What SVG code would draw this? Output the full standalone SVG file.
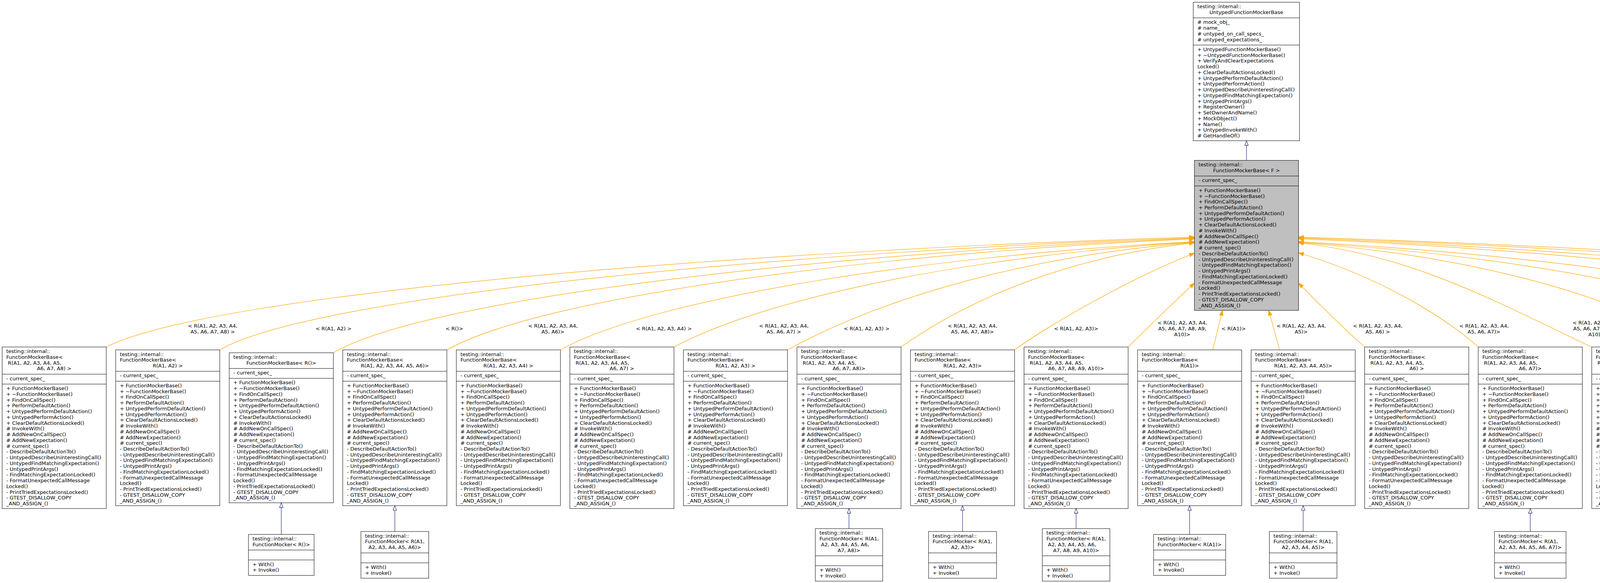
<svg xmlns="http://www.w3.org/2000/svg" width="6381" height="1493" viewBox="0 0 6381 1493">
<style>
.t{font-family:"DejaVu Sans","Liberation Sans",sans-serif;font-size:13px;fill:#000}
.c{text-anchor:middle}
.b{fill:#fff;stroke:#000;stroke-width:1}
.g{fill:#bfbfbf;stroke:#000;stroke-width:1}
.s{fill:none;stroke:#000;stroke-width:1}
.e{fill:none;stroke:#ffa500;stroke-width:1.2;marker-end:url(#ao)}
.i{fill:none;stroke:#191970;stroke-width:1.1;marker-end:url(#ai)}
</style>
<defs>
<marker id="ao" markerUnits="userSpaceOnUse" markerWidth="15" markerHeight="11" refX="13.5" refY="5" orient="auto"><path d="M0,0L13.5,5L0,10Z" fill="#ffa500" stroke="#ffa500" stroke-width="1"/></marker>
<marker id="ai" markerUnits="userSpaceOnUse" markerWidth="15" markerHeight="12" refX="13" refY="5" orient="auto"><path d="M1,0.5L13,5L1,9.5Z" fill="#fff" stroke="#191970" stroke-width="1.1"/></marker>
</defs>
<rect width="6381" height="1493" fill="#fff"/>

<g id="connectors">
<path class="i" d="M3191,410.7V360.38"/>
<path class="e" d="M272,888.67C550.6,747.9 1943.4,640.8 3057.7,607"/>
<path class="e" d="M562.67,896.04C812.2,752.5 2059.7,642.9 3057.7,608.5"/>
<path class="e" d="M853.34,903.41C1102.4,757.2 2175.9,645.1 3057.7,610"/>
<path class="e" d="M1144.01,896.04C1394,754.5 2292.2,645.5 3057.7,611.5"/>
<path class="e" d="M1434.68,896.04C1684.7,757.5 2408.5,652.2 3057.7,619"/>
<path class="e" d="M1725.35,888.67C1975.4,754.4 2524.8,652.2 3057.7,620"/>
<path class="e" d="M2016.02,896.04C2266,758.5 2641,654 3057.7,621"/>
<path class="e" d="M2306.69,888.67C2494.5,755.4 2757.3,654 3057.7,622"/>
<path class="e" d="M2597.36,896.04C2680,835 2900,709 3057.7,648.3"/>
<path class="e" d="M2888.03,888.67C2915,862 2990,788 3057.7,725"/>
<path class="e" d="M3104.5,896.04L3129.5,794.9"/>
<path class="e" d="M3275.8,896.04L3248,794.9"/>
<path class="e" d="M3493.54,888.67C3450,850 3380,782 3324.3,725"/>
<path class="e" d="M3784.21,888.67C3720,830 3560,719 3324.3,647.3"/>
<path class="e" d="M4074.88,888.67C3849.7,783.2 3624.5,654 3324.3,622"/>
<path class="e" d="M4365.55,896.04C4115.6,744.7 3740.8,654 3324.3,621"/>
<path class="e" d="M4656.22,896.04C4406.2,744.2 3857.1,653.4 3324.3,620"/>
<path class="e" d="M4946.89,903.41C4696.9,747 3973.3,653.1 3324.3,619"/>
<path class="e" d="M5237.56,888.67C4987.5,736.2 4089.6,644.8 3324.3,611.5"/>
<path class="e" d="M5528.23,896.04C5278.2,738.7 4205.9,644.3 3324.3,610"/>
<path class="e" d="M5818.9,888.67C5569.4,734.7 4322.1,642.1 3324.3,608.5"/>
<path class="e" d="M6109.57,896.04C5831.1,737 4438.4,641.7 3324.3,607"/>
<path class="i" d="M720.09,1368.5V1287.59"/>
<path class="i" d="M1010.76,1361.14V1294.96"/>
<path class="i" d="M2173.44,1353.77V1302.33"/>
<path class="i" d="M2464.11,1361.14V1294.96"/>
<path class="i" d="M2754.78,1353.77V1302.33"/>
<path class="i" d="M3045.45,1368.5V1294.96"/>
<path class="i" d="M3336.12,1361.14V1294.96"/>
<path class="i" d="M3917.46,1361.14V1302.33"/>
<path class="i" d="M5370.81,1353.77V1302.33"/>
<path class="i" d="M5661.48,1361.14V1294.96"/>
<path class="i" d="M6242.82,1368.5V1294.96"/>
<g class="t c">
<text x="544.5" y="839">&lt; R(A1, A2, A3, A4,</text><text x="544.5" y="854">A5, A6, A7, A8) &gt;</text>
<text x="854" y="845.8">&lt; R(A1, A2) &gt;</text>
<text x="1163" y="845.8">&lt; R()&gt;</text>
<text x="1415.5" y="839">&lt; R(A1, A2, A3, A4,</text><text x="1415.5" y="854">A5, A6)&gt;</text>
<text x="1699.5" y="845.8">&lt; R(A1, A2, A3, A4) &gt;</text>
<text x="2006.5" y="839">&lt; R(A1, A2, A3, A4,</text><text x="2006.5" y="854">A5, A6, A7) &gt;</text>
<text x="2218.5" y="845.8">&lt; R(A1, A2, A3) &gt;</text>
<text x="2489.5" y="839">&lt; R(A1, A2, A3, A4,</text><text x="2489.5" y="854">A5, A6, A7, A8)&gt;</text>
<text x="2755" y="845.8">&lt; R(A1, A2, A3)&gt;</text>
<text x="3026.7" y="831.4">&lt; R(A1, A2, A3, A4,</text><text x="3026.7" y="846">A5, A6, A7, A8, A9,</text><text x="3026.7" y="860.6">A10)&gt;</text>
<text x="3158" y="845.8">&lt; R(A1)&gt;</text>
<text x="3331" y="839">&lt; R(A1, A2, A3, A4,</text><text x="3331" y="854">A5)&gt;</text>
<text x="3527" y="839">&lt; R(A1, A2, A3, A4,</text><text x="3527" y="854">A5, A6) &gt;</text>
<text x="3799" y="839">&lt; R(A1, A2, A3, A4,</text><text x="3799" y="854">A5, A6, A7)&gt;</text>
<text x="4089" y="831.4">&lt; R(A1, A2, A3, A4,</text><text x="4089" y="846">A5, A6, A7, A8, A9,</text><text x="4089" y="860.6">A10) &gt;</text>
<text x="4344" y="845.8">&lt; R(A1) &gt;</text>
<text x="4652" y="839">&lt; R(A1, A2, A3, A4,</text><text x="4652" y="854">A5) &gt;</text>
<text x="4923.5" y="845.8">&lt; R() &gt;</text>
<text x="5254" y="839">&lt; R(A1, A2, A3, A4,</text><text x="5254" y="854">A5, A6, A7, A8, A9)&gt;</text>
<text x="5549" y="845.8">&lt; R(A1, A2, A3, A4)&gt;</text>
<text x="5841" y="839">&lt; R(A1, A2, A3, A4,</text><text x="5841" y="854">A5, A6, A7, A8, A9) &gt;</text>
<text x="6107" y="845.8">&lt; R(A1, A2)&gt;</text>
</g>
</g>

<g id="untyped" transform="translate(3054.7,5.7)"><rect class="b" width="272" height="354.68"/><path class="s" d="M0,40.08H272M0,109.64H272"/><text class="t" x="10.5" y="15.6">testing::internal::</text><text class="t c" x="136" y="30.34">UntypedFunctionMockerBase</text><text class="t" y="55.68"><tspan x="10.5"># mock_obj_</tspan><tspan x="10.5" dy="14.74"># name_</tspan><tspan x="10.5" dy="14.74"># untyped_on_call_specs_</tspan><tspan x="10.5" dy="14.74"># untyped_expectations_</tspan></text><text class="t" y="125.24"><tspan x="10.5">+ UntypedFunctionMockerBase()</tspan><tspan x="10.5" dy="14.74">+ ~UntypedFunctionMockerBase()</tspan><tspan x="10.5" dy="14.74">+ VerifyAndClearExpectations</tspan><tspan x="10.5" dy="14.74">Locked()</tspan><tspan x="10.5" dy="14.74">+ ClearDefaultActionsLocked()</tspan><tspan x="10.5" dy="14.74">+ UntypedPerformDefaultAction()</tspan><tspan x="10.5" dy="14.74">+ UntypedPerformAction()</tspan><tspan x="10.5" dy="14.74">+ UntypedDescribeUninterestingCall()</tspan><tspan x="10.5" dy="14.74">+ UntypedFindMatchingExpectation()</tspan><tspan x="10.5" dy="14.74">+ UntypedPrintArgs()</tspan><tspan x="10.5" dy="14.74">+ RegisterOwner()</tspan><tspan x="10.5" dy="14.74">+ SetOwnerAndName()</tspan><tspan x="10.5" dy="14.74">+ MockObject()</tspan><tspan x="10.5" dy="14.74">+ Name()</tspan><tspan x="10.5" dy="14.74">+ UntypedInvokeWith()</tspan><tspan x="10.5" dy="14.74"># GetHandleOf()</tspan></text></g>

<g id="base" transform="translate(3057.7,410.7)"><rect class="g" width="266.6" height="384.18"/><path class="s" d="M0,40.08H266.6M0,65.48H266.6"/><text class="t" x="10.5" y="15.6">testing::internal::</text><text class="t c" x="133.3" y="30.34">FunctionMockerBase&lt; F &gt;</text><text class="t" x="10.5" y="55.68">- current_spec_</text><text class="t" y="81.08"><tspan x="10.5">+ FunctionMockerBase()</tspan><tspan x="10.5" dy="14.74">+ ~FunctionMockerBase()</tspan><tspan x="10.5" dy="14.74">+ FindOnCallSpec()</tspan><tspan x="10.5" dy="14.74">+ PerformDefaultAction()</tspan><tspan x="10.5" dy="14.74">+ UntypedPerformDefaultAction()</tspan><tspan x="10.5" dy="14.74">+ UntypedPerformAction()</tspan><tspan x="10.5" dy="14.74">+ ClearDefaultActionsLocked()</tspan><tspan x="10.5" dy="14.74"># InvokeWith()</tspan><tspan x="10.5" dy="14.74"># AddNewOnCallSpec()</tspan><tspan x="10.5" dy="14.74"># AddNewExpectation()</tspan><tspan x="10.5" dy="14.74"># current_spec()</tspan><tspan x="10.5" dy="14.74">- DescribeDefaultActionTo()</tspan><tspan x="10.5" dy="14.74">- UntypedDescribeUninterestingCall()</tspan><tspan x="10.5" dy="14.74">- UntypedFindMatchingExpectation()</tspan><tspan x="10.5" dy="14.74">- UntypedPrintArgs()</tspan><tspan x="10.5" dy="14.74">- FindMatchingExpectationLocked()</tspan><tspan x="10.5" dy="14.74">- FormatUnexpectedCallMessage</tspan><tspan x="10.5" dy="14.74">Locked()</tspan><tspan x="10.5" dy="14.74">- PrintTriedExpectationsLocked()</tspan><tspan x="10.5" dy="14.74">- GTEST_DISALLOW_COPY</tspan><tspan x="10.5" dy="14.74">_AND_ASSIGN_()</tspan></text></g>

<g id="n1" transform="translate(5.5,888.67)"><rect class="b" width="266.5" height="413.66"/><path class="s" d="M0,69.56H266.5M0,94.96H266.5"/><text class="t" x="10.5" y="15.6">testing::internal::</text><text class="t" x="10.5" y="30.34">FunctionMockerBase&lt;</text><text class="t" x="14.6" y="45.08">R(A1, A2, A3, A4, A5,</text><text class="t c" x="133.25" y="59.82">A6, A7, A8) &gt;</text><text class="t" x="10.5" y="85.16">- current_spec_</text><text class="t" y="110.56"><tspan x="10.5">+ FunctionMockerBase()</tspan><tspan x="10.5" dy="14.74">+ ~FunctionMockerBase()</tspan><tspan x="10.5" dy="14.74">+ FindOnCallSpec()</tspan><tspan x="10.5" dy="14.74">+ PerformDefaultAction()</tspan><tspan x="10.5" dy="14.74">+ UntypedPerformDefaultAction()</tspan><tspan x="10.5" dy="14.74">+ UntypedPerformAction()</tspan><tspan x="10.5" dy="14.74">+ ClearDefaultActionsLocked()</tspan><tspan x="10.5" dy="14.74"># InvokeWith()</tspan><tspan x="10.5" dy="14.74"># AddNewOnCallSpec()</tspan><tspan x="10.5" dy="14.74"># AddNewExpectation()</tspan><tspan x="10.5" dy="14.74"># current_spec()</tspan><tspan x="10.5" dy="14.74">- DescribeDefaultActionTo()</tspan><tspan x="10.5" dy="14.74">- UntypedDescribeUninterestingCall()</tspan><tspan x="10.5" dy="14.74">- UntypedFindMatchingExpectation()</tspan><tspan x="10.5" dy="14.74">- UntypedPrintArgs()</tspan><tspan x="10.5" dy="14.74">- FindMatchingExpectationLocked()</tspan><tspan x="10.5" dy="14.74">- FormatUnexpectedCallMessage</tspan><tspan x="10.5" dy="14.74">Locked()</tspan><tspan x="10.5" dy="14.74">- PrintTriedExpectationsLocked()</tspan><tspan x="10.5" dy="14.74">- GTEST_DISALLOW_COPY</tspan><tspan x="10.5" dy="14.74">_AND_ASSIGN_()</tspan></text></g>

<g id="n2" transform="translate(296.17,896.04)"><rect class="b" width="266.5" height="398.92"/><path class="s" d="M0,54.82H266.5M0,80.22H266.5"/><text class="t" x="10.5" y="15.6">testing::internal::</text><text class="t" x="10.5" y="30.34">FunctionMockerBase&lt;</text><text class="t c" x="133.25" y="45.08">R(A1, A2) &gt;</text><text class="t" x="10.5" y="70.42">- current_spec_</text><text class="t" y="95.82"><tspan x="10.5">+ FunctionMockerBase()</tspan><tspan x="10.5" dy="14.74">+ ~FunctionMockerBase()</tspan><tspan x="10.5" dy="14.74">+ FindOnCallSpec()</tspan><tspan x="10.5" dy="14.74">+ PerformDefaultAction()</tspan><tspan x="10.5" dy="14.74">+ UntypedPerformDefaultAction()</tspan><tspan x="10.5" dy="14.74">+ UntypedPerformAction()</tspan><tspan x="10.5" dy="14.74">+ ClearDefaultActionsLocked()</tspan><tspan x="10.5" dy="14.74"># InvokeWith()</tspan><tspan x="10.5" dy="14.74"># AddNewOnCallSpec()</tspan><tspan x="10.5" dy="14.74"># AddNewExpectation()</tspan><tspan x="10.5" dy="14.74"># current_spec()</tspan><tspan x="10.5" dy="14.74">- DescribeDefaultActionTo()</tspan><tspan x="10.5" dy="14.74">- UntypedDescribeUninterestingCall()</tspan><tspan x="10.5" dy="14.74">- UntypedFindMatchingExpectation()</tspan><tspan x="10.5" dy="14.74">- UntypedPrintArgs()</tspan><tspan x="10.5" dy="14.74">- FindMatchingExpectationLocked()</tspan><tspan x="10.5" dy="14.74">- FormatUnexpectedCallMessage</tspan><tspan x="10.5" dy="14.74">Locked()</tspan><tspan x="10.5" dy="14.74">- PrintTriedExpectationsLocked()</tspan><tspan x="10.5" dy="14.74">- GTEST_DISALLOW_COPY</tspan><tspan x="10.5" dy="14.74">_AND_ASSIGN_()</tspan></text></g>

<g id="n3" transform="translate(586.84,903.41)"><rect class="b" width="266.5" height="384.18"/><path class="s" d="M0,40.08H266.5M0,65.48H266.5"/><text class="t" x="10.5" y="15.6">testing::internal::</text><text class="t c" x="133.25" y="30.34">FunctionMockerBase&lt; R()&gt;</text><text class="t" x="10.5" y="55.68">- current_spec_</text><text class="t" y="81.08"><tspan x="10.5">+ FunctionMockerBase()</tspan><tspan x="10.5" dy="14.74">+ ~FunctionMockerBase()</tspan><tspan x="10.5" dy="14.74">+ FindOnCallSpec()</tspan><tspan x="10.5" dy="14.74">+ PerformDefaultAction()</tspan><tspan x="10.5" dy="14.74">+ UntypedPerformDefaultAction()</tspan><tspan x="10.5" dy="14.74">+ UntypedPerformAction()</tspan><tspan x="10.5" dy="14.74">+ ClearDefaultActionsLocked()</tspan><tspan x="10.5" dy="14.74"># InvokeWith()</tspan><tspan x="10.5" dy="14.74"># AddNewOnCallSpec()</tspan><tspan x="10.5" dy="14.74"># AddNewExpectation()</tspan><tspan x="10.5" dy="14.74"># current_spec()</tspan><tspan x="10.5" dy="14.74">- DescribeDefaultActionTo()</tspan><tspan x="10.5" dy="14.74">- UntypedDescribeUninterestingCall()</tspan><tspan x="10.5" dy="14.74">- UntypedFindMatchingExpectation()</tspan><tspan x="10.5" dy="14.74">- UntypedPrintArgs()</tspan><tspan x="10.5" dy="14.74">- FindMatchingExpectationLocked()</tspan><tspan x="10.5" dy="14.74">- FormatUnexpectedCallMessage</tspan><tspan x="10.5" dy="14.74">Locked()</tspan><tspan x="10.5" dy="14.74">- PrintTriedExpectationsLocked()</tspan><tspan x="10.5" dy="14.74">- GTEST_DISALLOW_COPY</tspan><tspan x="10.5" dy="14.74">_AND_ASSIGN_()</tspan></text></g>

<g id="n4" transform="translate(877.51,896.04)"><rect class="b" width="266.5" height="398.92"/><path class="s" d="M0,54.82H266.5M0,80.22H266.5"/><text class="t" x="10.5" y="15.6">testing::internal::</text><text class="t" x="10.5" y="30.34">FunctionMockerBase&lt;</text><text class="t c" x="133.25" y="45.08">R(A1, A2, A3, A4, A5, A6)&gt;</text><text class="t" x="10.5" y="70.42">- current_spec_</text><text class="t" y="95.82"><tspan x="10.5">+ FunctionMockerBase()</tspan><tspan x="10.5" dy="14.74">+ ~FunctionMockerBase()</tspan><tspan x="10.5" dy="14.74">+ FindOnCallSpec()</tspan><tspan x="10.5" dy="14.74">+ PerformDefaultAction()</tspan><tspan x="10.5" dy="14.74">+ UntypedPerformDefaultAction()</tspan><tspan x="10.5" dy="14.74">+ UntypedPerformAction()</tspan><tspan x="10.5" dy="14.74">+ ClearDefaultActionsLocked()</tspan><tspan x="10.5" dy="14.74"># InvokeWith()</tspan><tspan x="10.5" dy="14.74"># AddNewOnCallSpec()</tspan><tspan x="10.5" dy="14.74"># AddNewExpectation()</tspan><tspan x="10.5" dy="14.74"># current_spec()</tspan><tspan x="10.5" dy="14.74">- DescribeDefaultActionTo()</tspan><tspan x="10.5" dy="14.74">- UntypedDescribeUninterestingCall()</tspan><tspan x="10.5" dy="14.74">- UntypedFindMatchingExpectation()</tspan><tspan x="10.5" dy="14.74">- UntypedPrintArgs()</tspan><tspan x="10.5" dy="14.74">- FindMatchingExpectationLocked()</tspan><tspan x="10.5" dy="14.74">- FormatUnexpectedCallMessage</tspan><tspan x="10.5" dy="14.74">Locked()</tspan><tspan x="10.5" dy="14.74">- PrintTriedExpectationsLocked()</tspan><tspan x="10.5" dy="14.74">- GTEST_DISALLOW_COPY</tspan><tspan x="10.5" dy="14.74">_AND_ASSIGN_()</tspan></text></g>

<g id="n5" transform="translate(1168.18,896.04)"><rect class="b" width="266.5" height="398.92"/><path class="s" d="M0,54.82H266.5M0,80.22H266.5"/><text class="t" x="10.5" y="15.6">testing::internal::</text><text class="t" x="10.5" y="30.34">FunctionMockerBase&lt;</text><text class="t c" x="133.25" y="45.08">R(A1, A2, A3, A4) &gt;</text><text class="t" x="10.5" y="70.42">- current_spec_</text><text class="t" y="95.82"><tspan x="10.5">+ FunctionMockerBase()</tspan><tspan x="10.5" dy="14.74">+ ~FunctionMockerBase()</tspan><tspan x="10.5" dy="14.74">+ FindOnCallSpec()</tspan><tspan x="10.5" dy="14.74">+ PerformDefaultAction()</tspan><tspan x="10.5" dy="14.74">+ UntypedPerformDefaultAction()</tspan><tspan x="10.5" dy="14.74">+ UntypedPerformAction()</tspan><tspan x="10.5" dy="14.74">+ ClearDefaultActionsLocked()</tspan><tspan x="10.5" dy="14.74"># InvokeWith()</tspan><tspan x="10.5" dy="14.74"># AddNewOnCallSpec()</tspan><tspan x="10.5" dy="14.74"># AddNewExpectation()</tspan><tspan x="10.5" dy="14.74"># current_spec()</tspan><tspan x="10.5" dy="14.74">- DescribeDefaultActionTo()</tspan><tspan x="10.5" dy="14.74">- UntypedDescribeUninterestingCall()</tspan><tspan x="10.5" dy="14.74">- UntypedFindMatchingExpectation()</tspan><tspan x="10.5" dy="14.74">- UntypedPrintArgs()</tspan><tspan x="10.5" dy="14.74">- FindMatchingExpectationLocked()</tspan><tspan x="10.5" dy="14.74">- FormatUnexpectedCallMessage</tspan><tspan x="10.5" dy="14.74">Locked()</tspan><tspan x="10.5" dy="14.74">- PrintTriedExpectationsLocked()</tspan><tspan x="10.5" dy="14.74">- GTEST_DISALLOW_COPY</tspan><tspan x="10.5" dy="14.74">_AND_ASSIGN_()</tspan></text></g>

<g id="n6" transform="translate(1458.85,888.67)"><rect class="b" width="266.5" height="413.66"/><path class="s" d="M0,69.56H266.5M0,94.96H266.5"/><text class="t" x="10.5" y="15.6">testing::internal::</text><text class="t" x="10.5" y="30.34">FunctionMockerBase&lt;</text><text class="t" x="14.6" y="45.08">R(A1, A2, A3, A4, A5,</text><text class="t c" x="133.25" y="59.82">A6, A7) &gt;</text><text class="t" x="10.5" y="85.16">- current_spec_</text><text class="t" y="110.56"><tspan x="10.5">+ FunctionMockerBase()</tspan><tspan x="10.5" dy="14.74">+ ~FunctionMockerBase()</tspan><tspan x="10.5" dy="14.74">+ FindOnCallSpec()</tspan><tspan x="10.5" dy="14.74">+ PerformDefaultAction()</tspan><tspan x="10.5" dy="14.74">+ UntypedPerformDefaultAction()</tspan><tspan x="10.5" dy="14.74">+ UntypedPerformAction()</tspan><tspan x="10.5" dy="14.74">+ ClearDefaultActionsLocked()</tspan><tspan x="10.5" dy="14.74"># InvokeWith()</tspan><tspan x="10.5" dy="14.74"># AddNewOnCallSpec()</tspan><tspan x="10.5" dy="14.74"># AddNewExpectation()</tspan><tspan x="10.5" dy="14.74"># current_spec()</tspan><tspan x="10.5" dy="14.74">- DescribeDefaultActionTo()</tspan><tspan x="10.5" dy="14.74">- UntypedDescribeUninterestingCall()</tspan><tspan x="10.5" dy="14.74">- UntypedFindMatchingExpectation()</tspan><tspan x="10.5" dy="14.74">- UntypedPrintArgs()</tspan><tspan x="10.5" dy="14.74">- FindMatchingExpectationLocked()</tspan><tspan x="10.5" dy="14.74">- FormatUnexpectedCallMessage</tspan><tspan x="10.5" dy="14.74">Locked()</tspan><tspan x="10.5" dy="14.74">- PrintTriedExpectationsLocked()</tspan><tspan x="10.5" dy="14.74">- GTEST_DISALLOW_COPY</tspan><tspan x="10.5" dy="14.74">_AND_ASSIGN_()</tspan></text></g>

<g id="n7" transform="translate(1749.52,896.04)"><rect class="b" width="266.5" height="398.92"/><path class="s" d="M0,54.82H266.5M0,80.22H266.5"/><text class="t" x="10.5" y="15.6">testing::internal::</text><text class="t" x="10.5" y="30.34">FunctionMockerBase&lt;</text><text class="t c" x="133.25" y="45.08">R(A1, A2, A3) &gt;</text><text class="t" x="10.5" y="70.42">- current_spec_</text><text class="t" y="95.82"><tspan x="10.5">+ FunctionMockerBase()</tspan><tspan x="10.5" dy="14.74">+ ~FunctionMockerBase()</tspan><tspan x="10.5" dy="14.74">+ FindOnCallSpec()</tspan><tspan x="10.5" dy="14.74">+ PerformDefaultAction()</tspan><tspan x="10.5" dy="14.74">+ UntypedPerformDefaultAction()</tspan><tspan x="10.5" dy="14.74">+ UntypedPerformAction()</tspan><tspan x="10.5" dy="14.74">+ ClearDefaultActionsLocked()</tspan><tspan x="10.5" dy="14.74"># InvokeWith()</tspan><tspan x="10.5" dy="14.74"># AddNewOnCallSpec()</tspan><tspan x="10.5" dy="14.74"># AddNewExpectation()</tspan><tspan x="10.5" dy="14.74"># current_spec()</tspan><tspan x="10.5" dy="14.74">- DescribeDefaultActionTo()</tspan><tspan x="10.5" dy="14.74">- UntypedDescribeUninterestingCall()</tspan><tspan x="10.5" dy="14.74">- UntypedFindMatchingExpectation()</tspan><tspan x="10.5" dy="14.74">- UntypedPrintArgs()</tspan><tspan x="10.5" dy="14.74">- FindMatchingExpectationLocked()</tspan><tspan x="10.5" dy="14.74">- FormatUnexpectedCallMessage</tspan><tspan x="10.5" dy="14.74">Locked()</tspan><tspan x="10.5" dy="14.74">- PrintTriedExpectationsLocked()</tspan><tspan x="10.5" dy="14.74">- GTEST_DISALLOW_COPY</tspan><tspan x="10.5" dy="14.74">_AND_ASSIGN_()</tspan></text></g>

<g id="n8" transform="translate(2040.19,888.67)"><rect class="b" width="266.5" height="413.66"/><path class="s" d="M0,69.56H266.5M0,94.96H266.5"/><text class="t" x="10.5" y="15.6">testing::internal::</text><text class="t" x="10.5" y="30.34">FunctionMockerBase&lt;</text><text class="t" x="14.6" y="45.08">R(A1, A2, A3, A4, A5,</text><text class="t c" x="133.25" y="59.82">A6, A7, A8)&gt;</text><text class="t" x="10.5" y="85.16">- current_spec_</text><text class="t" y="110.56"><tspan x="10.5">+ FunctionMockerBase()</tspan><tspan x="10.5" dy="14.74">+ ~FunctionMockerBase()</tspan><tspan x="10.5" dy="14.74">+ FindOnCallSpec()</tspan><tspan x="10.5" dy="14.74">+ PerformDefaultAction()</tspan><tspan x="10.5" dy="14.74">+ UntypedPerformDefaultAction()</tspan><tspan x="10.5" dy="14.74">+ UntypedPerformAction()</tspan><tspan x="10.5" dy="14.74">+ ClearDefaultActionsLocked()</tspan><tspan x="10.5" dy="14.74"># InvokeWith()</tspan><tspan x="10.5" dy="14.74"># AddNewOnCallSpec()</tspan><tspan x="10.5" dy="14.74"># AddNewExpectation()</tspan><tspan x="10.5" dy="14.74"># current_spec()</tspan><tspan x="10.5" dy="14.74">- DescribeDefaultActionTo()</tspan><tspan x="10.5" dy="14.74">- UntypedDescribeUninterestingCall()</tspan><tspan x="10.5" dy="14.74">- UntypedFindMatchingExpectation()</tspan><tspan x="10.5" dy="14.74">- UntypedPrintArgs()</tspan><tspan x="10.5" dy="14.74">- FindMatchingExpectationLocked()</tspan><tspan x="10.5" dy="14.74">- FormatUnexpectedCallMessage</tspan><tspan x="10.5" dy="14.74">Locked()</tspan><tspan x="10.5" dy="14.74">- PrintTriedExpectationsLocked()</tspan><tspan x="10.5" dy="14.74">- GTEST_DISALLOW_COPY</tspan><tspan x="10.5" dy="14.74">_AND_ASSIGN_()</tspan></text></g>

<g id="n9" transform="translate(2330.86,896.04)"><rect class="b" width="266.5" height="398.92"/><path class="s" d="M0,54.82H266.5M0,80.22H266.5"/><text class="t" x="10.5" y="15.6">testing::internal::</text><text class="t" x="10.5" y="30.34">FunctionMockerBase&lt;</text><text class="t c" x="133.25" y="45.08">R(A1, A2, A3)&gt;</text><text class="t" x="10.5" y="70.42">- current_spec_</text><text class="t" y="95.82"><tspan x="10.5">+ FunctionMockerBase()</tspan><tspan x="10.5" dy="14.74">+ ~FunctionMockerBase()</tspan><tspan x="10.5" dy="14.74">+ FindOnCallSpec()</tspan><tspan x="10.5" dy="14.74">+ PerformDefaultAction()</tspan><tspan x="10.5" dy="14.74">+ UntypedPerformDefaultAction()</tspan><tspan x="10.5" dy="14.74">+ UntypedPerformAction()</tspan><tspan x="10.5" dy="14.74">+ ClearDefaultActionsLocked()</tspan><tspan x="10.5" dy="14.74"># InvokeWith()</tspan><tspan x="10.5" dy="14.74"># AddNewOnCallSpec()</tspan><tspan x="10.5" dy="14.74"># AddNewExpectation()</tspan><tspan x="10.5" dy="14.74"># current_spec()</tspan><tspan x="10.5" dy="14.74">- DescribeDefaultActionTo()</tspan><tspan x="10.5" dy="14.74">- UntypedDescribeUninterestingCall()</tspan><tspan x="10.5" dy="14.74">- UntypedFindMatchingExpectation()</tspan><tspan x="10.5" dy="14.74">- UntypedPrintArgs()</tspan><tspan x="10.5" dy="14.74">- FindMatchingExpectationLocked()</tspan><tspan x="10.5" dy="14.74">- FormatUnexpectedCallMessage</tspan><tspan x="10.5" dy="14.74">Locked()</tspan><tspan x="10.5" dy="14.74">- PrintTriedExpectationsLocked()</tspan><tspan x="10.5" dy="14.74">- GTEST_DISALLOW_COPY</tspan><tspan x="10.5" dy="14.74">_AND_ASSIGN_()</tspan></text></g>

<g id="n10" transform="translate(2621.53,888.67)"><rect class="b" width="266.5" height="413.66"/><path class="s" d="M0,69.56H266.5M0,94.96H266.5"/><text class="t" x="10.5" y="15.6">testing::internal::</text><text class="t" x="10.5" y="30.34">FunctionMockerBase&lt;</text><text class="t" x="14.6" y="45.08">R(A1, A2, A3, A4, A5,</text><text class="t c" x="133.25" y="59.82">A6, A7, A8, A9, A10)&gt;</text><text class="t" x="10.5" y="85.16">- current_spec_</text><text class="t" y="110.56"><tspan x="10.5">+ FunctionMockerBase()</tspan><tspan x="10.5" dy="14.74">+ ~FunctionMockerBase()</tspan><tspan x="10.5" dy="14.74">+ FindOnCallSpec()</tspan><tspan x="10.5" dy="14.74">+ PerformDefaultAction()</tspan><tspan x="10.5" dy="14.74">+ UntypedPerformDefaultAction()</tspan><tspan x="10.5" dy="14.74">+ UntypedPerformAction()</tspan><tspan x="10.5" dy="14.74">+ ClearDefaultActionsLocked()</tspan><tspan x="10.5" dy="14.74"># InvokeWith()</tspan><tspan x="10.5" dy="14.74"># AddNewOnCallSpec()</tspan><tspan x="10.5" dy="14.74"># AddNewExpectation()</tspan><tspan x="10.5" dy="14.74"># current_spec()</tspan><tspan x="10.5" dy="14.74">- DescribeDefaultActionTo()</tspan><tspan x="10.5" dy="14.74">- UntypedDescribeUninterestingCall()</tspan><tspan x="10.5" dy="14.74">- UntypedFindMatchingExpectation()</tspan><tspan x="10.5" dy="14.74">- UntypedPrintArgs()</tspan><tspan x="10.5" dy="14.74">- FindMatchingExpectationLocked()</tspan><tspan x="10.5" dy="14.74">- FormatUnexpectedCallMessage</tspan><tspan x="10.5" dy="14.74">Locked()</tspan><tspan x="10.5" dy="14.74">- PrintTriedExpectationsLocked()</tspan><tspan x="10.5" dy="14.74">- GTEST_DISALLOW_COPY</tspan><tspan x="10.5" dy="14.74">_AND_ASSIGN_()</tspan></text></g>

<g id="n11" transform="translate(2912.2,896.04)"><rect class="b" width="266.5" height="398.92"/><path class="s" d="M0,54.82H266.5M0,80.22H266.5"/><text class="t" x="10.5" y="15.6">testing::internal::</text><text class="t" x="10.5" y="30.34">FunctionMockerBase&lt;</text><text class="t c" x="133.25" y="45.08">R(A1)&gt;</text><text class="t" x="10.5" y="70.42">- current_spec_</text><text class="t" y="95.82"><tspan x="10.5">+ FunctionMockerBase()</tspan><tspan x="10.5" dy="14.74">+ ~FunctionMockerBase()</tspan><tspan x="10.5" dy="14.74">+ FindOnCallSpec()</tspan><tspan x="10.5" dy="14.74">+ PerformDefaultAction()</tspan><tspan x="10.5" dy="14.74">+ UntypedPerformDefaultAction()</tspan><tspan x="10.5" dy="14.74">+ UntypedPerformAction()</tspan><tspan x="10.5" dy="14.74">+ ClearDefaultActionsLocked()</tspan><tspan x="10.5" dy="14.74"># InvokeWith()</tspan><tspan x="10.5" dy="14.74"># AddNewOnCallSpec()</tspan><tspan x="10.5" dy="14.74"># AddNewExpectation()</tspan><tspan x="10.5" dy="14.74"># current_spec()</tspan><tspan x="10.5" dy="14.74">- DescribeDefaultActionTo()</tspan><tspan x="10.5" dy="14.74">- UntypedDescribeUninterestingCall()</tspan><tspan x="10.5" dy="14.74">- UntypedFindMatchingExpectation()</tspan><tspan x="10.5" dy="14.74">- UntypedPrintArgs()</tspan><tspan x="10.5" dy="14.74">- FindMatchingExpectationLocked()</tspan><tspan x="10.5" dy="14.74">- FormatUnexpectedCallMessage</tspan><tspan x="10.5" dy="14.74">Locked()</tspan><tspan x="10.5" dy="14.74">- PrintTriedExpectationsLocked()</tspan><tspan x="10.5" dy="14.74">- GTEST_DISALLOW_COPY</tspan><tspan x="10.5" dy="14.74">_AND_ASSIGN_()</tspan></text></g>

<g id="n12" transform="translate(3202.87,896.04)"><rect class="b" width="266.5" height="398.92"/><path class="s" d="M0,54.82H266.5M0,80.22H266.5"/><text class="t" x="10.5" y="15.6">testing::internal::</text><text class="t" x="10.5" y="30.34">FunctionMockerBase&lt;</text><text class="t c" x="133.25" y="45.08">R(A1, A2, A3, A4, A5)&gt;</text><text class="t" x="10.5" y="70.42">- current_spec_</text><text class="t" y="95.82"><tspan x="10.5">+ FunctionMockerBase()</tspan><tspan x="10.5" dy="14.74">+ ~FunctionMockerBase()</tspan><tspan x="10.5" dy="14.74">+ FindOnCallSpec()</tspan><tspan x="10.5" dy="14.74">+ PerformDefaultAction()</tspan><tspan x="10.5" dy="14.74">+ UntypedPerformDefaultAction()</tspan><tspan x="10.5" dy="14.74">+ UntypedPerformAction()</tspan><tspan x="10.5" dy="14.74">+ ClearDefaultActionsLocked()</tspan><tspan x="10.5" dy="14.74"># InvokeWith()</tspan><tspan x="10.5" dy="14.74"># AddNewOnCallSpec()</tspan><tspan x="10.5" dy="14.74"># AddNewExpectation()</tspan><tspan x="10.5" dy="14.74"># current_spec()</tspan><tspan x="10.5" dy="14.74">- DescribeDefaultActionTo()</tspan><tspan x="10.5" dy="14.74">- UntypedDescribeUninterestingCall()</tspan><tspan x="10.5" dy="14.74">- UntypedFindMatchingExpectation()</tspan><tspan x="10.5" dy="14.74">- UntypedPrintArgs()</tspan><tspan x="10.5" dy="14.74">- FindMatchingExpectationLocked()</tspan><tspan x="10.5" dy="14.74">- FormatUnexpectedCallMessage</tspan><tspan x="10.5" dy="14.74">Locked()</tspan><tspan x="10.5" dy="14.74">- PrintTriedExpectationsLocked()</tspan><tspan x="10.5" dy="14.74">- GTEST_DISALLOW_COPY</tspan><tspan x="10.5" dy="14.74">_AND_ASSIGN_()</tspan></text></g>

<g id="n13" transform="translate(3493.54,888.67)"><rect class="b" width="266.5" height="413.66"/><path class="s" d="M0,69.56H266.5M0,94.96H266.5"/><text class="t" x="10.5" y="15.6">testing::internal::</text><text class="t" x="10.5" y="30.34">FunctionMockerBase&lt;</text><text class="t" x="14.6" y="45.08">R(A1, A2, A3, A4, A5,</text><text class="t c" x="133.25" y="59.82">A6) &gt;</text><text class="t" x="10.5" y="85.16">- current_spec_</text><text class="t" y="110.56"><tspan x="10.5">+ FunctionMockerBase()</tspan><tspan x="10.5" dy="14.74">+ ~FunctionMockerBase()</tspan><tspan x="10.5" dy="14.74">+ FindOnCallSpec()</tspan><tspan x="10.5" dy="14.74">+ PerformDefaultAction()</tspan><tspan x="10.5" dy="14.74">+ UntypedPerformDefaultAction()</tspan><tspan x="10.5" dy="14.74">+ UntypedPerformAction()</tspan><tspan x="10.5" dy="14.74">+ ClearDefaultActionsLocked()</tspan><tspan x="10.5" dy="14.74"># InvokeWith()</tspan><tspan x="10.5" dy="14.74"># AddNewOnCallSpec()</tspan><tspan x="10.5" dy="14.74"># AddNewExpectation()</tspan><tspan x="10.5" dy="14.74"># current_spec()</tspan><tspan x="10.5" dy="14.74">- DescribeDefaultActionTo()</tspan><tspan x="10.5" dy="14.74">- UntypedDescribeUninterestingCall()</tspan><tspan x="10.5" dy="14.74">- UntypedFindMatchingExpectation()</tspan><tspan x="10.5" dy="14.74">- UntypedPrintArgs()</tspan><tspan x="10.5" dy="14.74">- FindMatchingExpectationLocked()</tspan><tspan x="10.5" dy="14.74">- FormatUnexpectedCallMessage</tspan><tspan x="10.5" dy="14.74">Locked()</tspan><tspan x="10.5" dy="14.74">- PrintTriedExpectationsLocked()</tspan><tspan x="10.5" dy="14.74">- GTEST_DISALLOW_COPY</tspan><tspan x="10.5" dy="14.74">_AND_ASSIGN_()</tspan></text></g>

<g id="n14" transform="translate(3784.21,888.67)"><rect class="b" width="266.5" height="413.66"/><path class="s" d="M0,69.56H266.5M0,94.96H266.5"/><text class="t" x="10.5" y="15.6">testing::internal::</text><text class="t" x="10.5" y="30.34">FunctionMockerBase&lt;</text><text class="t" x="14.6" y="45.08">R(A1, A2, A3, A4, A5,</text><text class="t c" x="133.25" y="59.82">A6, A7)&gt;</text><text class="t" x="10.5" y="85.16">- current_spec_</text><text class="t" y="110.56"><tspan x="10.5">+ FunctionMockerBase()</tspan><tspan x="10.5" dy="14.74">+ ~FunctionMockerBase()</tspan><tspan x="10.5" dy="14.74">+ FindOnCallSpec()</tspan><tspan x="10.5" dy="14.74">+ PerformDefaultAction()</tspan><tspan x="10.5" dy="14.74">+ UntypedPerformDefaultAction()</tspan><tspan x="10.5" dy="14.74">+ UntypedPerformAction()</tspan><tspan x="10.5" dy="14.74">+ ClearDefaultActionsLocked()</tspan><tspan x="10.5" dy="14.74"># InvokeWith()</tspan><tspan x="10.5" dy="14.74"># AddNewOnCallSpec()</tspan><tspan x="10.5" dy="14.74"># AddNewExpectation()</tspan><tspan x="10.5" dy="14.74"># current_spec()</tspan><tspan x="10.5" dy="14.74">- DescribeDefaultActionTo()</tspan><tspan x="10.5" dy="14.74">- UntypedDescribeUninterestingCall()</tspan><tspan x="10.5" dy="14.74">- UntypedFindMatchingExpectation()</tspan><tspan x="10.5" dy="14.74">- UntypedPrintArgs()</tspan><tspan x="10.5" dy="14.74">- FindMatchingExpectationLocked()</tspan><tspan x="10.5" dy="14.74">- FormatUnexpectedCallMessage</tspan><tspan x="10.5" dy="14.74">Locked()</tspan><tspan x="10.5" dy="14.74">- PrintTriedExpectationsLocked()</tspan><tspan x="10.5" dy="14.74">- GTEST_DISALLOW_COPY</tspan><tspan x="10.5" dy="14.74">_AND_ASSIGN_()</tspan></text></g>

<g id="n15" transform="translate(4074.88,888.67)"><rect class="b" width="266.5" height="413.66"/><path class="s" d="M0,69.56H266.5M0,94.96H266.5"/><text class="t" x="10.5" y="15.6">testing::internal::</text><text class="t" x="10.5" y="30.34">FunctionMockerBase&lt;</text><text class="t" x="14.6" y="45.08">R(A1, A2, A3, A4, A5,</text><text class="t c" x="133.25" y="59.82">A6, A7, A8, A9, A10) &gt;</text><text class="t" x="10.5" y="85.16">- current_spec_</text><text class="t" y="110.56"><tspan x="10.5">+ FunctionMockerBase()</tspan><tspan x="10.5" dy="14.74">+ ~FunctionMockerBase()</tspan><tspan x="10.5" dy="14.74">+ FindOnCallSpec()</tspan><tspan x="10.5" dy="14.74">+ PerformDefaultAction()</tspan><tspan x="10.5" dy="14.74">+ UntypedPerformDefaultAction()</tspan><tspan x="10.5" dy="14.74">+ UntypedPerformAction()</tspan><tspan x="10.5" dy="14.74">+ ClearDefaultActionsLocked()</tspan><tspan x="10.5" dy="14.74"># InvokeWith()</tspan><tspan x="10.5" dy="14.74"># AddNewOnCallSpec()</tspan><tspan x="10.5" dy="14.74"># AddNewExpectation()</tspan><tspan x="10.5" dy="14.74"># current_spec()</tspan><tspan x="10.5" dy="14.74">- DescribeDefaultActionTo()</tspan><tspan x="10.5" dy="14.74">- UntypedDescribeUninterestingCall()</tspan><tspan x="10.5" dy="14.74">- UntypedFindMatchingExpectation()</tspan><tspan x="10.5" dy="14.74">- UntypedPrintArgs()</tspan><tspan x="10.5" dy="14.74">- FindMatchingExpectationLocked()</tspan><tspan x="10.5" dy="14.74">- FormatUnexpectedCallMessage</tspan><tspan x="10.5" dy="14.74">Locked()</tspan><tspan x="10.5" dy="14.74">- PrintTriedExpectationsLocked()</tspan><tspan x="10.5" dy="14.74">- GTEST_DISALLOW_COPY</tspan><tspan x="10.5" dy="14.74">_AND_ASSIGN_()</tspan></text></g>

<g id="n16" transform="translate(4365.55,896.04)"><rect class="b" width="266.5" height="398.92"/><path class="s" d="M0,54.82H266.5M0,80.22H266.5"/><text class="t" x="10.5" y="15.6">testing::internal::</text><text class="t" x="10.5" y="30.34">FunctionMockerBase&lt;</text><text class="t c" x="133.25" y="45.08">R(A1) &gt;</text><text class="t" x="10.5" y="70.42">- current_spec_</text><text class="t" y="95.82"><tspan x="10.5">+ FunctionMockerBase()</tspan><tspan x="10.5" dy="14.74">+ ~FunctionMockerBase()</tspan><tspan x="10.5" dy="14.74">+ FindOnCallSpec()</tspan><tspan x="10.5" dy="14.74">+ PerformDefaultAction()</tspan><tspan x="10.5" dy="14.74">+ UntypedPerformDefaultAction()</tspan><tspan x="10.5" dy="14.74">+ UntypedPerformAction()</tspan><tspan x="10.5" dy="14.74">+ ClearDefaultActionsLocked()</tspan><tspan x="10.5" dy="14.74"># InvokeWith()</tspan><tspan x="10.5" dy="14.74"># AddNewOnCallSpec()</tspan><tspan x="10.5" dy="14.74"># AddNewExpectation()</tspan><tspan x="10.5" dy="14.74"># current_spec()</tspan><tspan x="10.5" dy="14.74">- DescribeDefaultActionTo()</tspan><tspan x="10.5" dy="14.74">- UntypedDescribeUninterestingCall()</tspan><tspan x="10.5" dy="14.74">- UntypedFindMatchingExpectation()</tspan><tspan x="10.5" dy="14.74">- UntypedPrintArgs()</tspan><tspan x="10.5" dy="14.74">- FindMatchingExpectationLocked()</tspan><tspan x="10.5" dy="14.74">- FormatUnexpectedCallMessage</tspan><tspan x="10.5" dy="14.74">Locked()</tspan><tspan x="10.5" dy="14.74">- PrintTriedExpectationsLocked()</tspan><tspan x="10.5" dy="14.74">- GTEST_DISALLOW_COPY</tspan><tspan x="10.5" dy="14.74">_AND_ASSIGN_()</tspan></text></g>

<g id="n17" transform="translate(4656.22,896.04)"><rect class="b" width="266.5" height="398.92"/><path class="s" d="M0,54.82H266.5M0,80.22H266.5"/><text class="t" x="10.5" y="15.6">testing::internal::</text><text class="t" x="10.5" y="30.34">FunctionMockerBase&lt;</text><text class="t c" x="133.25" y="45.08">R(A1, A2, A3, A4, A5) &gt;</text><text class="t" x="10.5" y="70.42">- current_spec_</text><text class="t" y="95.82"><tspan x="10.5">+ FunctionMockerBase()</tspan><tspan x="10.5" dy="14.74">+ ~FunctionMockerBase()</tspan><tspan x="10.5" dy="14.74">+ FindOnCallSpec()</tspan><tspan x="10.5" dy="14.74">+ PerformDefaultAction()</tspan><tspan x="10.5" dy="14.74">+ UntypedPerformDefaultAction()</tspan><tspan x="10.5" dy="14.74">+ UntypedPerformAction()</tspan><tspan x="10.5" dy="14.74">+ ClearDefaultActionsLocked()</tspan><tspan x="10.5" dy="14.74"># InvokeWith()</tspan><tspan x="10.5" dy="14.74"># AddNewOnCallSpec()</tspan><tspan x="10.5" dy="14.74"># AddNewExpectation()</tspan><tspan x="10.5" dy="14.74"># current_spec()</tspan><tspan x="10.5" dy="14.74">- DescribeDefaultActionTo()</tspan><tspan x="10.5" dy="14.74">- UntypedDescribeUninterestingCall()</tspan><tspan x="10.5" dy="14.74">- UntypedFindMatchingExpectation()</tspan><tspan x="10.5" dy="14.74">- UntypedPrintArgs()</tspan><tspan x="10.5" dy="14.74">- FindMatchingExpectationLocked()</tspan><tspan x="10.5" dy="14.74">- FormatUnexpectedCallMessage</tspan><tspan x="10.5" dy="14.74">Locked()</tspan><tspan x="10.5" dy="14.74">- PrintTriedExpectationsLocked()</tspan><tspan x="10.5" dy="14.74">- GTEST_DISALLOW_COPY</tspan><tspan x="10.5" dy="14.74">_AND_ASSIGN_()</tspan></text></g>

<g id="n18" transform="translate(4946.89,903.41)"><rect class="b" width="266.5" height="384.18"/><path class="s" d="M0,40.08H266.5M0,65.48H266.5"/><text class="t" x="10.5" y="15.6">testing::internal::</text><text class="t c" x="133.25" y="30.34">FunctionMockerBase&lt; R() &gt;</text><text class="t" x="10.5" y="55.68">- current_spec_</text><text class="t" y="81.08"><tspan x="10.5">+ FunctionMockerBase()</tspan><tspan x="10.5" dy="14.74">+ ~FunctionMockerBase()</tspan><tspan x="10.5" dy="14.74">+ FindOnCallSpec()</tspan><tspan x="10.5" dy="14.74">+ PerformDefaultAction()</tspan><tspan x="10.5" dy="14.74">+ UntypedPerformDefaultAction()</tspan><tspan x="10.5" dy="14.74">+ UntypedPerformAction()</tspan><tspan x="10.5" dy="14.74">+ ClearDefaultActionsLocked()</tspan><tspan x="10.5" dy="14.74"># InvokeWith()</tspan><tspan x="10.5" dy="14.74"># AddNewOnCallSpec()</tspan><tspan x="10.5" dy="14.74"># AddNewExpectation()</tspan><tspan x="10.5" dy="14.74"># current_spec()</tspan><tspan x="10.5" dy="14.74">- DescribeDefaultActionTo()</tspan><tspan x="10.5" dy="14.74">- UntypedDescribeUninterestingCall()</tspan><tspan x="10.5" dy="14.74">- UntypedFindMatchingExpectation()</tspan><tspan x="10.5" dy="14.74">- UntypedPrintArgs()</tspan><tspan x="10.5" dy="14.74">- FindMatchingExpectationLocked()</tspan><tspan x="10.5" dy="14.74">- FormatUnexpectedCallMessage</tspan><tspan x="10.5" dy="14.74">Locked()</tspan><tspan x="10.5" dy="14.74">- PrintTriedExpectationsLocked()</tspan><tspan x="10.5" dy="14.74">- GTEST_DISALLOW_COPY</tspan><tspan x="10.5" dy="14.74">_AND_ASSIGN_()</tspan></text></g>

<g id="n19" transform="translate(5237.56,888.67)"><rect class="b" width="266.5" height="413.66"/><path class="s" d="M0,69.56H266.5M0,94.96H266.5"/><text class="t" x="10.5" y="15.6">testing::internal::</text><text class="t" x="10.5" y="30.34">FunctionMockerBase&lt;</text><text class="t" x="14.6" y="45.08">R(A1, A2, A3, A4, A5,</text><text class="t c" x="133.25" y="59.82">A6, A7, A8, A9)&gt;</text><text class="t" x="10.5" y="85.16">- current_spec_</text><text class="t" y="110.56"><tspan x="10.5">+ FunctionMockerBase()</tspan><tspan x="10.5" dy="14.74">+ ~FunctionMockerBase()</tspan><tspan x="10.5" dy="14.74">+ FindOnCallSpec()</tspan><tspan x="10.5" dy="14.74">+ PerformDefaultAction()</tspan><tspan x="10.5" dy="14.74">+ UntypedPerformDefaultAction()</tspan><tspan x="10.5" dy="14.74">+ UntypedPerformAction()</tspan><tspan x="10.5" dy="14.74">+ ClearDefaultActionsLocked()</tspan><tspan x="10.5" dy="14.74"># InvokeWith()</tspan><tspan x="10.5" dy="14.74"># AddNewOnCallSpec()</tspan><tspan x="10.5" dy="14.74"># AddNewExpectation()</tspan><tspan x="10.5" dy="14.74"># current_spec()</tspan><tspan x="10.5" dy="14.74">- DescribeDefaultActionTo()</tspan><tspan x="10.5" dy="14.74">- UntypedDescribeUninterestingCall()</tspan><tspan x="10.5" dy="14.74">- UntypedFindMatchingExpectation()</tspan><tspan x="10.5" dy="14.74">- UntypedPrintArgs()</tspan><tspan x="10.5" dy="14.74">- FindMatchingExpectationLocked()</tspan><tspan x="10.5" dy="14.74">- FormatUnexpectedCallMessage</tspan><tspan x="10.5" dy="14.74">Locked()</tspan><tspan x="10.5" dy="14.74">- PrintTriedExpectationsLocked()</tspan><tspan x="10.5" dy="14.74">- GTEST_DISALLOW_COPY</tspan><tspan x="10.5" dy="14.74">_AND_ASSIGN_()</tspan></text></g>

<g id="n20" transform="translate(5528.23,896.04)"><rect class="b" width="266.5" height="398.92"/><path class="s" d="M0,54.82H266.5M0,80.22H266.5"/><text class="t" x="10.5" y="15.6">testing::internal::</text><text class="t" x="10.5" y="30.34">FunctionMockerBase&lt;</text><text class="t c" x="133.25" y="45.08">R(A1, A2, A3, A4)&gt;</text><text class="t" x="10.5" y="70.42">- current_spec_</text><text class="t" y="95.82"><tspan x="10.5">+ FunctionMockerBase()</tspan><tspan x="10.5" dy="14.74">+ ~FunctionMockerBase()</tspan><tspan x="10.5" dy="14.74">+ FindOnCallSpec()</tspan><tspan x="10.5" dy="14.74">+ PerformDefaultAction()</tspan><tspan x="10.5" dy="14.74">+ UntypedPerformDefaultAction()</tspan><tspan x="10.5" dy="14.74">+ UntypedPerformAction()</tspan><tspan x="10.5" dy="14.74">+ ClearDefaultActionsLocked()</tspan><tspan x="10.5" dy="14.74"># InvokeWith()</tspan><tspan x="10.5" dy="14.74"># AddNewOnCallSpec()</tspan><tspan x="10.5" dy="14.74"># AddNewExpectation()</tspan><tspan x="10.5" dy="14.74"># current_spec()</tspan><tspan x="10.5" dy="14.74">- DescribeDefaultActionTo()</tspan><tspan x="10.5" dy="14.74">- UntypedDescribeUninterestingCall()</tspan><tspan x="10.5" dy="14.74">- UntypedFindMatchingExpectation()</tspan><tspan x="10.5" dy="14.74">- UntypedPrintArgs()</tspan><tspan x="10.5" dy="14.74">- FindMatchingExpectationLocked()</tspan><tspan x="10.5" dy="14.74">- FormatUnexpectedCallMessage</tspan><tspan x="10.5" dy="14.74">Locked()</tspan><tspan x="10.5" dy="14.74">- PrintTriedExpectationsLocked()</tspan><tspan x="10.5" dy="14.74">- GTEST_DISALLOW_COPY</tspan><tspan x="10.5" dy="14.74">_AND_ASSIGN_()</tspan></text></g>

<g id="n21" transform="translate(5818.9,888.67)"><rect class="b" width="266.5" height="413.66"/><path class="s" d="M0,69.56H266.5M0,94.96H266.5"/><text class="t" x="10.5" y="15.6">testing::internal::</text><text class="t" x="10.5" y="30.34">FunctionMockerBase&lt;</text><text class="t" x="14.6" y="45.08">R(A1, A2, A3, A4, A5,</text><text class="t c" x="133.25" y="59.82">A6, A7, A8, A9) &gt;</text><text class="t" x="10.5" y="85.16">- current_spec_</text><text class="t" y="110.56"><tspan x="10.5">+ FunctionMockerBase()</tspan><tspan x="10.5" dy="14.74">+ ~FunctionMockerBase()</tspan><tspan x="10.5" dy="14.74">+ FindOnCallSpec()</tspan><tspan x="10.5" dy="14.74">+ PerformDefaultAction()</tspan><tspan x="10.5" dy="14.74">+ UntypedPerformDefaultAction()</tspan><tspan x="10.5" dy="14.74">+ UntypedPerformAction()</tspan><tspan x="10.5" dy="14.74">+ ClearDefaultActionsLocked()</tspan><tspan x="10.5" dy="14.74"># InvokeWith()</tspan><tspan x="10.5" dy="14.74"># AddNewOnCallSpec()</tspan><tspan x="10.5" dy="14.74"># AddNewExpectation()</tspan><tspan x="10.5" dy="14.74"># current_spec()</tspan><tspan x="10.5" dy="14.74">- DescribeDefaultActionTo()</tspan><tspan x="10.5" dy="14.74">- UntypedDescribeUninterestingCall()</tspan><tspan x="10.5" dy="14.74">- UntypedFindMatchingExpectation()</tspan><tspan x="10.5" dy="14.74">- UntypedPrintArgs()</tspan><tspan x="10.5" dy="14.74">- FindMatchingExpectationLocked()</tspan><tspan x="10.5" dy="14.74">- FormatUnexpectedCallMessage</tspan><tspan x="10.5" dy="14.74">Locked()</tspan><tspan x="10.5" dy="14.74">- PrintTriedExpectationsLocked()</tspan><tspan x="10.5" dy="14.74">- GTEST_DISALLOW_COPY</tspan><tspan x="10.5" dy="14.74">_AND_ASSIGN_()</tspan></text></g>

<g id="n22" transform="translate(6109.57,896.04)"><rect class="b" width="266.5" height="398.92"/><path class="s" d="M0,54.82H266.5M0,80.22H266.5"/><text class="t" x="10.5" y="15.6">testing::internal::</text><text class="t" x="10.5" y="30.34">FunctionMockerBase&lt;</text><text class="t c" x="133.25" y="45.08">R(A1, A2)&gt;</text><text class="t" x="10.5" y="70.42">- current_spec_</text><text class="t" y="95.82"><tspan x="10.5">+ FunctionMockerBase()</tspan><tspan x="10.5" dy="14.74">+ ~FunctionMockerBase()</tspan><tspan x="10.5" dy="14.74">+ FindOnCallSpec()</tspan><tspan x="10.5" dy="14.74">+ PerformDefaultAction()</tspan><tspan x="10.5" dy="14.74">+ UntypedPerformDefaultAction()</tspan><tspan x="10.5" dy="14.74">+ UntypedPerformAction()</tspan><tspan x="10.5" dy="14.74">+ ClearDefaultActionsLocked()</tspan><tspan x="10.5" dy="14.74"># InvokeWith()</tspan><tspan x="10.5" dy="14.74"># AddNewOnCallSpec()</tspan><tspan x="10.5" dy="14.74"># AddNewExpectation()</tspan><tspan x="10.5" dy="14.74"># current_spec()</tspan><tspan x="10.5" dy="14.74">- DescribeDefaultActionTo()</tspan><tspan x="10.5" dy="14.74">- UntypedDescribeUninterestingCall()</tspan><tspan x="10.5" dy="14.74">- UntypedFindMatchingExpectation()</tspan><tspan x="10.5" dy="14.74">- UntypedPrintArgs()</tspan><tspan x="10.5" dy="14.74">- FindMatchingExpectationLocked()</tspan><tspan x="10.5" dy="14.74">- FormatUnexpectedCallMessage</tspan><tspan x="10.5" dy="14.74">Locked()</tspan><tspan x="10.5" dy="14.74">- PrintTriedExpectationsLocked()</tspan><tspan x="10.5" dy="14.74">- GTEST_DISALLOW_COPY</tspan><tspan x="10.5" dy="14.74">_AND_ASSIGN_()</tspan></text></g>

<g id="m3" transform="translate(636.09,1368.5)"><rect class="b" width="168" height="105"/><path class="s" d="M0,40.08H168M0,65.48H168"/><text class="t" x="10.5" y="15.6">testing::internal::</text><text class="t c" x="84" y="30.34">FunctionMocker&lt; R()&gt;</text><text class="t" y="81.08"><tspan x="10.5">+ With()</tspan><tspan x="10.5" dy="14.74">+ Invoke()</tspan></text></g>

<g id="m4" transform="translate(923.96,1361.14)"><rect class="b" width="173.6" height="119.72"/><path class="s" d="M0,54.82H173.6M0,80.22H173.6"/><text class="t" x="10.5" y="15.6">testing::internal::</text><text class="t" x="10.5" y="30.34">FunctionMocker&lt; R(A1,</text><text class="t c" x="86.8" y="45.08">A2, A3, A4, A5, A6)&gt;</text><text class="t" y="95.82"><tspan x="10.5">+ With()</tspan><tspan x="10.5" dy="14.74">+ Invoke()</tspan></text></g>

<g id="m8" transform="translate(2087.19,1353.77)"><rect class="b" width="172.5" height="134.46"/><path class="s" d="M0,69.56H172.5M0,94.96H172.5"/><text class="t" x="10.5" y="15.6">testing::internal::</text><text class="t" x="10.5" y="30.34">FunctionMocker&lt; R(A1,</text><text class="t" x="14.6" y="45.08">A2, A3, A4, A5, A6,</text><text class="t c" x="86.25" y="59.82">A7, A8)&gt;</text><text class="t" y="110.56"><tspan x="10.5">+ With()</tspan><tspan x="10.5" dy="14.74">+ Invoke()</tspan></text></g>

<g id="m9" transform="translate(2377.11,1361.14)"><rect class="b" width="174" height="119.72"/><path class="s" d="M0,54.82H174M0,80.22H174"/><text class="t" x="10.5" y="15.6">testing::internal::</text><text class="t" x="10.5" y="30.34">FunctionMocker&lt; R(A1,</text><text class="t c" x="87" y="45.08">A2, A3)&gt;</text><text class="t" y="95.82"><tspan x="10.5">+ With()</tspan><tspan x="10.5" dy="14.74">+ Invoke()</tspan></text></g>

<g id="m10" transform="translate(2668.28,1353.77)"><rect class="b" width="173" height="134.46"/><path class="s" d="M0,69.56H173M0,94.96H173"/><text class="t" x="10.5" y="15.6">testing::internal::</text><text class="t" x="10.5" y="30.34">FunctionMocker&lt; R(A1,</text><text class="t" x="14.6" y="45.08">A2, A3, A4, A5, A6,</text><text class="t c" x="86.5" y="59.82">A7, A8, A9, A10)&gt;</text><text class="t" y="110.56"><tspan x="10.5">+ With()</tspan><tspan x="10.5" dy="14.74">+ Invoke()</tspan></text></g>

<g id="m11" transform="translate(2953.15,1368.5)"><rect class="b" width="184.6" height="105"/><path class="s" d="M0,40.08H184.6M0,65.48H184.6"/><text class="t" x="10.5" y="15.6">testing::internal::</text><text class="t c" x="92.3" y="30.34">FunctionMocker&lt; R(A1)&gt;</text><text class="t" y="81.08"><tspan x="10.5">+ With()</tspan><tspan x="10.5" dy="14.74">+ Invoke()</tspan></text></g>

<g id="m12" transform="translate(3249.62,1361.14)"><rect class="b" width="173" height="119.72"/><path class="s" d="M0,54.82H173M0,80.22H173"/><text class="t" x="10.5" y="15.6">testing::internal::</text><text class="t" x="10.5" y="30.34">FunctionMocker&lt; R(A1,</text><text class="t c" x="86.5" y="45.08">A2, A3, A4, A5)&gt;</text><text class="t" y="95.82"><tspan x="10.5">+ With()</tspan><tspan x="10.5" dy="14.74">+ Invoke()</tspan></text></g>

<g id="m14" transform="translate(3825.86,1361.14)"><rect class="b" width="183.2" height="119.72"/><path class="s" d="M0,54.82H183.2M0,80.22H183.2"/><text class="t" x="10.5" y="15.6">testing::internal::</text><text class="t" x="10.5" y="30.34">FunctionMocker&lt; R(A1,</text><text class="t c" x="91.6" y="45.08">A2, A3, A4, A5, A6, A7)&gt;</text><text class="t" y="95.82"><tspan x="10.5">+ With()</tspan><tspan x="10.5" dy="14.74">+ Invoke()</tspan></text></g>

<g id="m19" transform="translate(5284.41,1353.77)"><rect class="b" width="172.8" height="134.46"/><path class="s" d="M0,69.56H172.8M0,94.96H172.8"/><text class="t" x="10.5" y="15.6">testing::internal::</text><text class="t" x="10.5" y="30.34">FunctionMocker&lt; R(A1,</text><text class="t" x="14.6" y="45.08">A2, A3, A4, A5, A6,</text><text class="t c" x="86.4" y="59.82">A7, A8, A9)&gt;</text><text class="t" y="110.56"><tspan x="10.5">+ With()</tspan><tspan x="10.5" dy="14.74">+ Invoke()</tspan></text></g>

<g id="m20" transform="translate(5574.88,1361.14)"><rect class="b" width="173.2" height="119.72"/><path class="s" d="M0,54.82H173.2M0,80.22H173.2"/><text class="t" x="10.5" y="15.6">testing::internal::</text><text class="t" x="10.5" y="30.34">FunctionMocker&lt; R(A1,</text><text class="t c" x="86.6" y="45.08">A2, A3, A4)&gt;</text><text class="t" y="95.82"><tspan x="10.5">+ With()</tspan><tspan x="10.5" dy="14.74">+ Invoke()</tspan></text></g>

<g id="m22" transform="translate(6137.97,1368.5)"><rect class="b" width="209.7" height="105"/><path class="s" d="M0,40.08H209.7M0,65.48H209.7"/><text class="t" x="10.5" y="15.6">testing::internal::</text><text class="t c" x="104.85" y="30.34">FunctionMocker&lt; R(A1, A2)&gt;</text><text class="t" y="81.08"><tspan x="10.5">+ With()</tspan><tspan x="10.5" dy="14.74">+ Invoke()</tspan></text></g>
</svg>
